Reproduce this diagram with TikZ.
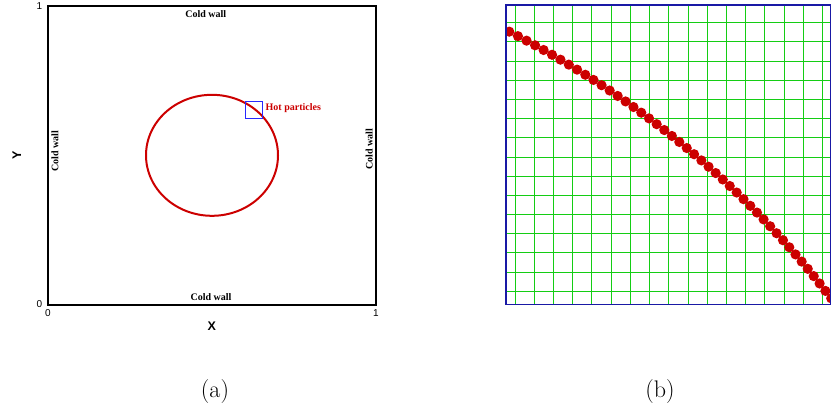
\documentclass[tikz,border=0pt]{standalone}
\usepackage{fontspec}
\newfontfamily\serifb{Liberation Serif}
\newfontfamily\sansf{Liberation Sans}
\definecolor{plotred}{RGB}{204,0,0}
\definecolor{boxblue}{RGB}{40,40,255}
\definecolor{gridgreen}{RGB}{20,205,20}
\definecolor{framenavy}{RGB}{25,25,165}
\tikzset{
  wall/.style={inner sep=0pt, font=\serifb\bfseries\fontsize{10}{12}\selectfont},
  hot/.style={inner sep=0pt, text=plotred, font=\serifb\bfseries\fontsize{10}{12}\selectfont},
  ticklab/.style={inner sep=0pt, font=\sansf\fontsize{10}{12}\selectfont},
  axislab/.style={inner sep=0pt, font=\sansf\bfseries\fontsize{12.5}{14}\selectfont},
  caption/.style={inner sep=0pt, font=\fontsize{24}{28}\selectfont},
  gridline/.style={gridgreen, line width=1pt},
}
\begin{document}
\begin{tikzpicture}[x=1pt,y=-1pt]
\useasboundingbox (0,0) rectangle (831,413);
% ---------- panel (a)
\draw[line width=1.5pt] (48,6) rectangle (376,305);
\draw[plotred, line width=2pt] (212,155.3) ellipse [x radius=66pt, y radius=60.5pt];
\draw[boxblue, line width=1.4pt] (245.5,101.7) rectangle (262.5,118.7);
\node[wall] (ctop) at (205.7,13.7) {Cold wall};
\node[wall] (cbot) at (211,296.7) {Cold wall};
\node[wall, rotate=90] (cleft) at (55,151) {Cold wall};
\node[wall, rotate=90] (cright) at (369.3,149) {Cold wall};
\node[hot, anchor=west] (hot) at (265.5,108.3) {Hot particles};
\node[ticklab] (y1) at (39.5,6) {1};
\node[ticklab] (y0) at (39.5,304.5) {0};
\node[ticklab] (x0) at (48,313.3) {0};
\node[ticklab] (x1) at (376,313.3) {1};
\node[axislab] (xl) at (211.7,326) {X};
\node[axislab, rotate=90] (yl) at (16.7,155) {Y};
% ---------- panel (b)
\begin{scope}
  \clip (505.7,4.7) rectangle (830.4,304.3);
  \foreach \k in {0,...,16} {\draw[gridline] ({515+19.23*\k},4) -- ({515+19.23*\k},305);}
  \foreach \k in {0,...,14} {\draw[gridline] (505,{22.7+19.19*\k}) -- (831,{22.7+19.19*\k});}
  \foreach \i in {0,...,44} {
    \pgfmathsetmacro{\myang}{61.09-0.5925*\i}
    \fill[plotred] ({45.46+959.45*cos(\myang)},{805.9-884.5*sin(\myang)}) circle[radius=5.1pt];
  }
\end{scope}
\draw[framenavy, line width=1.6pt] (505.7,4.7) rectangle (830.4,304.3);
% ---------- captions
\node[caption] (capa) at (215,391.5) {(a)};
\node[caption] (capb) at (660,391.5) {(b)};
\end{tikzpicture}
\end{document}
